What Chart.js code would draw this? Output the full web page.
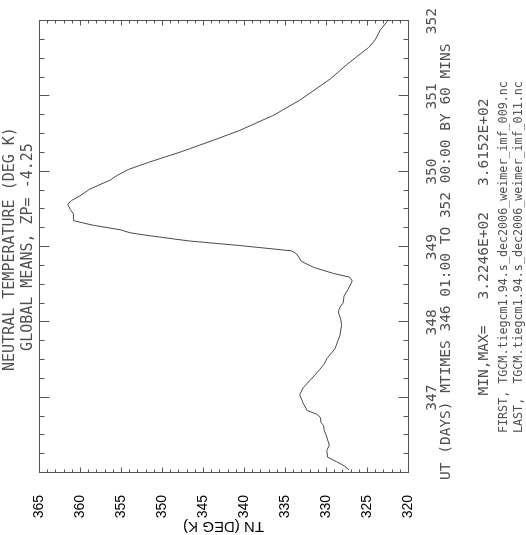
<!DOCTYPE html>
<html><head><meta charset="utf-8">
<script src="https://cdn.jsdelivr.net/npm/chart.js@4.4.1/dist/chart.umd.min.js"></script>
<style>
html,body{margin:0;padding:0;background:#fff;overflow:hidden;width:526px;height:535px;}
#wrap{position:absolute;left:0;top:0;width:535px;height:526px;transform-origin:0 0;transform:translate(0px,535px) rotate(-90deg);}
canvas{display:block}
</style></head><body>
<div id="wrap"><canvas id="c" width="535" height="526"></canvas></div>
<script>
// UT day (x) and global mean neutral temperature TN in K (y)
const dayValues = [346.042,346.09,346.15,346.21,346.30,346.37,346.44,346.51,346.56,346.63,346.67,346.74,346.78,346.83,346.93,347.04,347.13,347.26,347.37,347.45,347.52,347.65,347.74,347.83,347.96,348.04,348.14,348.20,348.26,348.35,348.44,348.55,348.60,348.65,348.73,348.81,348.88,348.92,348.95,349.02,349.08,349.15,349.19,349.23,349.29,349.35,349.44,349.50,349.57,349.62,349.68,349.77,349.89,349.95,350.03,350.13,350.26,350.42,350.55,350.75,350.95,351.23,351.42,351.65,351.75,351.88,352.00];
const tnValues  = [327.2,327.7,328.7,329.8,329.9,329.6,329.8,330.0,330.2,330.3,330.6,330.7,331.1,332.3,332.8,333.2,332.8,331.7,330.8,330.2,329.9,328.9,328.6,328.3,328.1,328.2,328.5,328.3,327.9,327.8,327.3,326.8,327.1,329.1,331.5,333.0,333.4,333.7,334.2,340.5,346.6,351.5,353.9,355.1,358.4,360.8,360.8,361.2,361.5,361.0,360.0,358.8,356.3,355.5,354.1,351.5,347.8,343.7,340.5,336.4,333.2,329.5,327.5,324.8,324.0,323.4,322.5];
const dayTickLabels = [347,348,349,350,351,352];
const tnTickLabels = [320,325,330,335,340,345,350,355,360,365];
const titleLines = ["NEUTRAL TEMPERATURE (DEG K)", "GLOBAL MEANS, ZP= -4.25"];
const xAxisLine = "UT (DAYS) MTIMES 346 01:00 TO 352 00:00 BY 60 MINS";
const minMaxLine = "MIN,MAX=   3.2246E+02   3.6152E+02";
const fileLines = ["FIRST, TGCM.tiegcm1.94.s_dec2006_weimer_imf_009.nc",
                   "LAST,  TGCM.tiegcm1.94.s_dec2006_weimer_imf_011.nc"];

const MONO = "'DejaVu Sans Mono', monospace";
const TXT = '#505050';

const framePlugin = {
  id: 'frame',
  afterDraw(chart) {
    const {ctx, chartArea: a, scales: {x, y}} = chart;
    ctx.save();
    ctx.strokeStyle = '#555';
    ctx.lineWidth = 1;
    const L = Math.round(a.left) + 0.5, R = Math.round(a.right) + 0.5;
    const T = Math.round(a.top) + 0.5, B = Math.round(a.bottom) + 0.5;
    ctx.strokeRect(L, T, R - L, B - T);
    const seg = (x1, y1, x2, y2) => { ctx.beginPath(); ctx.moveTo(x1, y1); ctx.lineTo(x2, y2); ctx.stroke(); };
    // time axis ticks (every 6 h, major each day) on bottom and top, pointing inward
    for (let i = 0; i <= 24; i++) {
      const d = x.min + i * 0.25;
      const px = Math.round(x.getPixelForValue(d)) + 0.5;
      const len = (i % 4 === 0) ? 10 : 5;
      seg(px, B, px, B - len);
      seg(px, T, px, T + len);
    }
    // temperature ticks (every 1 K, major each 5 K) on left and right
    for (let t = y.min; t <= y.max; t++) {
      const py = Math.round(y.getPixelForValue(t)) + 0.5;
      const len = (t % 5 === 0) ? 5 : 3;
      seg(L, py, L + len, py);
      seg(R, py, R - len, py);
    }
    // texts
    const cx = (a.left + a.right) / 2;
    ctx.fillStyle = TXT;
    ctx.textBaseline = 'alphabetic';
    ctx.font = "15px " + MONO;
    ctx.textAlign = 'center';
    ctx.fillText(titleLines[0], cx - 2, 14);
    ctx.fillText(titleLines[1], cx, 32);
    ctx.font = "14.5px " + MONO;
    ctx.textAlign = 'left';
    ctx.fillText(xAxisLine, 55, 450);
    ctx.textAlign = 'center';
    ctx.fillText(minMaxLine, cx, 488);
    ctx.font = "11.7px " + MONO;
    ctx.textAlign = 'left';
    ctx.fillText(fileLines[0], 102, 507);
    ctx.fillText(fileLines[1], 102, 522);
    ctx.restore();
  }
};

new Chart(document.getElementById('c'), {
  type: 'line',
  data: {
    datasets: [{
      data: dayValues.map((d, i) => ({x: d, y: tnValues[i]})),
      borderColor: '#4a4a4a',
      borderWidth: 1,
      pointRadius: 0,
      tension: 0,
      fill: false
    }]
  },
  options: {
    responsive: false,
    animation: false,
    devicePixelRatio: 1,
    layout: {padding: {left: 0, right: 14, top: 39, bottom: 0}},
    plugins: {legend: {display: false}, tooltip: {enabled: false}, title: {display: false}},
    scales: {
      x: {
        type: 'linear', position: 'bottom', min: 346, max: 352,
        afterBuildTicks: s => { s.ticks = dayTickLabels.map(v => ({value: v})); },
        afterFit: s => { s.height = 118; },
        grid: {display: false}, border: {display: false},
        ticks: {font: {family: MONO, size: 14.5}, color: TXT, padding: 8, maxRotation: 0,
                callback: v => String(v)}
      },
      y: {
        type: 'linear', position: 'left', min: 320, max: 365,
        afterBuildTicks: s => { s.ticks = tnTickLabels.map(v => ({value: v})); },
        afterFit: s => { s.width = 62; },
        grid: {display: false}, border: {display: false},
        ticks: {font: {family: "'Liberation Sans', Arial, sans-serif", size: 14}, color: '#000', padding: 14,
                callback: v => String(v)},
        title: {display: true, text: 'TN (DEG K)', font: {family: "'Liberation Sans', Arial, sans-serif", size: 15},
                color: '#000', padding: {top: 0, bottom: 0}}
      }
    }
  },
  plugins: [framePlugin]
});
</script>
</body></html>
